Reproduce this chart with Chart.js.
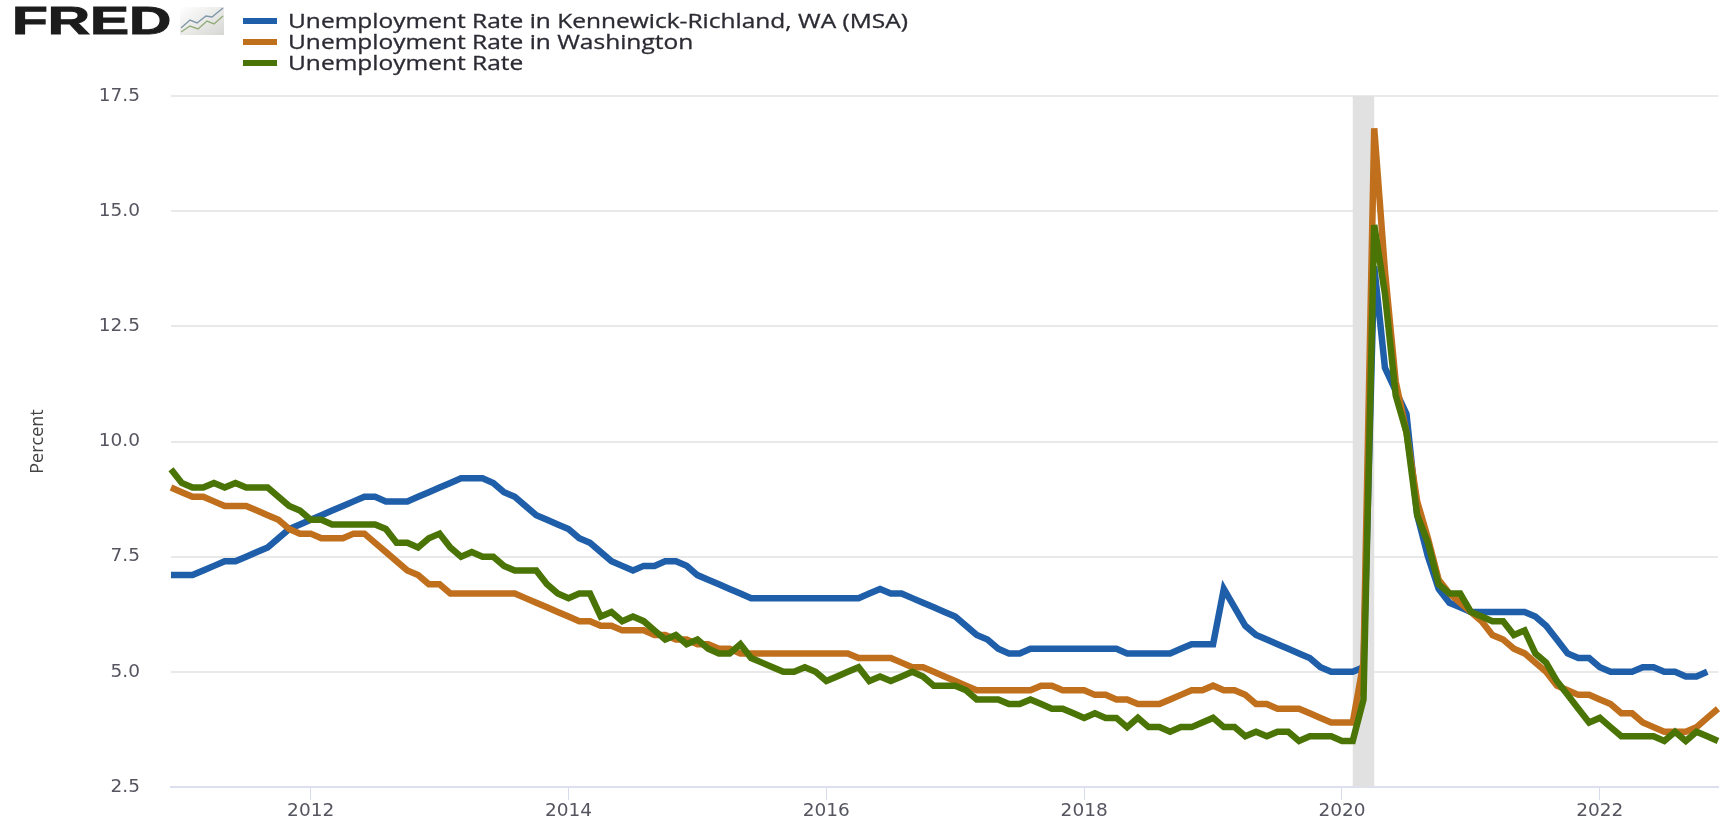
<!DOCTYPE html>
<html>
<head>
<meta charset="utf-8">
<title>FRED Unemployment Rate</title>
<script src="https://cdn.jsdelivr.net/npm/chart.js@4"></script>
<style>
  html, body { margin: 0; padding: 0; background: #fff; overflow: hidden; }
  #wrap { position: relative; width: 1727px; height: 821px; }
  #logo { position: absolute; left: 12px; top: 1px; font: bold 38px/40px "Liberation Sans", sans-serif; color: #1c1c1c; -webkit-text-stroke: 1px #1c1c1c; transform: scaleX(1.54); transform-origin: left top; }
  #icon { position: absolute; left: 180px; top: 7px; }
  #legend { position: absolute; left: 243px; top: 10px; font: 20px/21px "Open Sans", sans-serif; color: #2b2b33; }
  .row { display: flex; align-items: center; height: 21px; white-space: nowrap; }
  .swatch { width: 34px; height: 6px; margin-right: 11px; }
  .name { display: inline-block; transform: scaleX(1.225); transform-origin: left center; -webkit-text-stroke: 0.3px #2b2b33; }
</style>
</head>
<body>
<div id="wrap">
  <div id="logo">FRED</div>
  <svg id="icon" width="44" height="28" viewBox="0 0 44 28">
    <defs>
      <linearGradient id="iconBg" x1="0" y1="0" x2="1" y2="1">
        <stop offset="0" stop-color="#ffffff"/>
        <stop offset="1" stop-color="#d6d6d4"/>
      </linearGradient>
    </defs>
    <rect width="44" height="28" fill="url(#iconBg)"/>
    <polyline points="1,21 10,13 17,16 26,9 32,10 43,1" fill="none" stroke="#7f97a8" stroke-width="1.4"/>
    <polyline points="1,25 10,19 18,22 27,14 34,17 43,9" fill="none" stroke="#93ad78" stroke-width="1.4"/>
  </svg>
  <div id="legend"></div>
  <canvas id="chart" width="1727" height="821"></canvas>
</div>
<script>
// monthly, Dec 2010 through Dec 2022
const startYear = 2010;
const startMonth = 12;

const kennewick = [
  7.1,
  7.1, 7.1, 7.2, 7.3, 7.4, 7.4, 7.5, 7.6, 7.7, 7.9, 8.1, 8.2,
  8.3, 8.4, 8.5, 8.6, 8.7, 8.8, 8.8, 8.7, 8.7, 8.7, 8.8, 8.9,
  9.0, 9.1, 9.2, 9.2, 9.2, 9.1, 8.9, 8.8, 8.6, 8.4, 8.3, 8.2,
  8.1, 7.9, 7.8, 7.6, 7.4, 7.3, 7.2, 7.3, 7.3, 7.4, 7.4, 7.3,
  7.1, 7.0, 6.9, 6.8, 6.7, 6.6, 6.6, 6.6, 6.6, 6.6, 6.6, 6.6,
  6.6, 6.6, 6.6, 6.6, 6.7, 6.8, 6.7, 6.7, 6.6, 6.5, 6.4, 6.3,
  6.2, 6.0, 5.8, 5.7, 5.5, 5.4, 5.4, 5.5, 5.5, 5.5, 5.5, 5.5,
  5.5, 5.5, 5.5, 5.5, 5.4, 5.4, 5.4, 5.4, 5.4, 5.5, 5.6, 5.6,
  5.6, 6.8, 6.4, 6.0, 5.8, 5.7, 5.6, 5.5, 5.4, 5.3, 5.1, 5.0,
  5.0, 5.0, 5.1, 13.8, 11.6, 11.1, 10.6, 8.4, 7.5, 6.8, 6.5, 6.4,
  6.3, 6.3, 6.3, 6.3, 6.3, 6.3, 6.2, 6.0, 5.7, 5.4, 5.3, 5.3,
  5.1, 5.0, 5.0, 5.0, 5.1, 5.1, 5.0, 5.0, 4.9, 4.9, 5.0, null
];

const washington = [
  9.0,
  8.9, 8.8, 8.8, 8.7, 8.6, 8.6, 8.6, 8.5, 8.4, 8.3, 8.1, 8.0,
  8.0, 7.9, 7.9, 7.9, 8.0, 8.0, 7.8, 7.6, 7.4, 7.2, 7.1, 6.9,
  6.9, 6.7, 6.7, 6.7, 6.7, 6.7, 6.7, 6.7, 6.6, 6.5, 6.4, 6.3,
  6.2, 6.1, 6.1, 6.0, 6.0, 5.9, 5.9, 5.9, 5.8, 5.8, 5.7, 5.7,
  5.6, 5.6, 5.5, 5.5, 5.4, 5.4, 5.4, 5.4, 5.4, 5.4, 5.4, 5.4,
  5.4, 5.4, 5.4, 5.3, 5.3, 5.3, 5.3, 5.2, 5.1, 5.1, 5.0, 4.9,
  4.8, 4.7, 4.6, 4.6, 4.6, 4.6, 4.6, 4.6, 4.7, 4.7, 4.6, 4.6,
  4.6, 4.5, 4.5, 4.4, 4.4, 4.3, 4.3, 4.3, 4.4, 4.5, 4.6, 4.6,
  4.7, 4.6, 4.6, 4.5, 4.3, 4.3, 4.2, 4.2, 4.2, 4.1, 4.0, 3.9,
  3.9, 3.9, 5.2, 16.8, 13.7, 11.3, 10.2, 8.7, 7.9, 7.0, 6.7, 6.5,
  6.3, 6.1, 5.8, 5.7, 5.5, 5.4, 5.2, 5.0, 4.7, 4.6, 4.5, 4.5,
  4.4, 4.3, 4.1, 4.1, 3.9, 3.8, 3.7, 3.7, 3.7, 3.8, 4.0, 4.2
];

const national = [
  9.4,
  9.1, 9.0, 9.0, 9.1, 9.0, 9.1, 9.0, 9.0, 9.0, 8.8, 8.6, 8.5,
  8.3, 8.3, 8.2, 8.2, 8.2, 8.2, 8.2, 8.1, 7.8, 7.8, 7.7, 7.9,
  8.0, 7.7, 7.5, 7.6, 7.5, 7.5, 7.3, 7.2, 7.2, 7.2, 6.9, 6.7,
  6.6, 6.7, 6.7, 6.2, 6.3, 6.1, 6.2, 6.1, 5.9, 5.7, 5.8, 5.6,
  5.7, 5.5, 5.4, 5.4, 5.6, 5.3, 5.2, 5.1, 5.0, 5.0, 5.1, 5.0,
  4.8, 4.9, 5.0, 5.1, 4.8, 4.9, 4.8, 4.9, 5.0, 4.9, 4.7, 4.7,
  4.7, 4.6, 4.4, 4.4, 4.4, 4.3, 4.3, 4.4, 4.3, 4.2, 4.2, 4.1,
  4.0, 4.1, 4.0, 4.0, 3.8, 4.0, 3.8, 3.8, 3.7, 3.8, 3.8, 3.9,
  4.0, 3.8, 3.8, 3.6, 3.7, 3.6, 3.7, 3.7, 3.5, 3.6, 3.6, 3.6,
  3.5, 3.5, 4.4, 14.7, 13.2, 11.0, 10.2, 8.4, 7.8, 6.9, 6.7, 6.7,
  6.3, 6.2, 6.1, 6.1, 5.8, 5.9, 5.4, 5.2, 4.8, 4.5, 4.2, 3.9,
  4.0, 3.8, 3.6, 3.6, 3.6, 3.6, 3.5, 3.7, 3.5, 3.7, 3.6, 3.5
];

const seriesNames = [
  "Unemployment Rate in Kennewick-Richland, WA (MSA)",
  "Unemployment Rate in Washington",
  "Unemployment Rate"
];
const seriesColors = ["#1f5ea8", "#c0701c", "#4a7406"];
const yearTicks = [2012, 2014, 2016, 2018, 2020, 2022];
const recession = ["2020-02", "2020-04"];

const labels = kennewick.map((_, i) => {
  const m = startMonth - 1 + i;
  const y = startYear + Math.floor(m / 12);
  return y + "-" + String(m % 12 + 1).padStart(2, "0");
});

function yearLabel(i) {
  const l = labels[i];
  if (!l.endsWith("-01")) return "";
  const y = parseInt(l);
  return yearTicks.includes(y) ? String(y) : "";
}

// legend
const legend = document.getElementById("legend");
seriesNames.forEach((name, i) => {
  const row = document.createElement("div");
  row.className = "row";
  row.innerHTML = `<span class="swatch" style="background:${seriesColors[i]}"></span><span class="name">${name}</span>`;
  legend.appendChild(row);
});

const recessionBand = {
  id: "recessionBand",
  beforeDatasetsDraw(chart) {
    const x = chart.scales.x, a = chart.chartArea, ctx = chart.ctx;
    const x0 = x.getPixelForValue(labels.indexOf(recession[0]));
    const x1 = x.getPixelForValue(labels.indexOf(recession[1]));
    ctx.save();
    ctx.fillStyle = "#e1e1e1";
    ctx.fillRect(x0, a.top, x1 - x0, a.bottom - a.top);
    ctx.restore();
  }
};

const tickFont = { family: "'DejaVu Sans', sans-serif", size: 18.5 };

function makeDataset(data, i, order) {
  return {
    label: seriesNames[i],
    data: data,
    borderColor: seriesColors[i],
    borderWidth: 6.5,
    borderJoinStyle: "miter",
    pointRadius: 0,
    fill: false,
    tension: 0,
    order: order
  };
}

new Chart(document.getElementById("chart").getContext("2d"), {
  type: "line",
  data: {
    labels: labels,
    datasets: [
      makeDataset(kennewick, 0, 3),
      makeDataset(washington, 1, 2),
      makeDataset(national, 2, 1)
    ]
  },
  plugins: [recessionBand],
  options: {
    responsive: false,
    animation: false,
    layout: { padding: { top: 96, right: 9, left: 0, bottom: 0 } },
    plugins: { legend: { display: false }, tooltip: { enabled: false } },
    scales: {
      x: {
        type: "category",
        offset: false,
        afterFit(s) { s.height = 34; },
        border: { color: "#dcdff0", width: 2 },
        grid: {
          drawOnChartArea: false,
          tickLength: 13,
          tickColor: c => (yearLabel(c.index) ? "#d8dcea" : "rgba(0,0,0,0)")
        },
        ticks: {
          autoSkip: false,
          maxRotation: 0,
          padding: 0,
          color: "#555560",
          font: tickFont,
          callback: (v, i) => yearLabel(i)
        }
      },
      y: {
        min: 2.5,
        max: 17.5,
        // tick padding also gets added below the axis, drop it so the plot reaches the x axis
        afterFit(s) { s.width = 171; s.paddingBottom = 0; },
        border: { display: false },
        grid: { color: "#e9e9e9", lineWidth: 2, drawTicks: false },
        ticks: {
          stepSize: 2.5,
          padding: 31,
          color: "#555560",
          font: tickFont,
          callback: v => v.toFixed(1)
        },
        title: {
          display: true,
          text: "Percent",
          color: "#444",
          font: { family: "'Open Sans', sans-serif", size: 18 },
          padding: { top: 27, bottom: 0 }
        }
      }
    }
  }
});
</script>
</body>
</html>
